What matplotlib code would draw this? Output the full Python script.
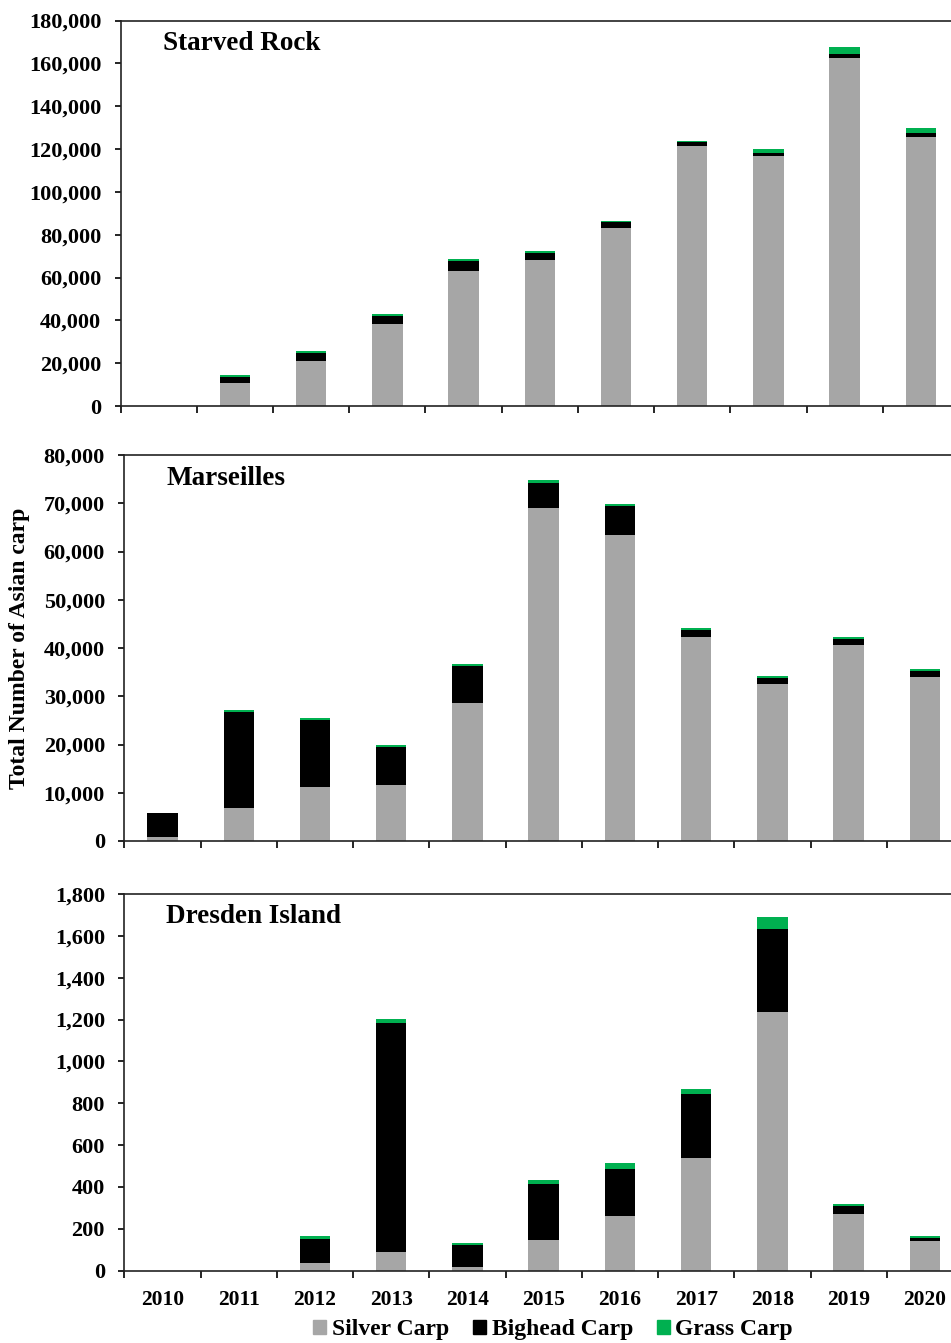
import matplotlib.pyplot as plt
import numpy as np
from matplotlib.ticker import FuncFormatter
from matplotlib.patches import Patch

plt.rcParams['font.family'] = ['Liberation Serif', 'DejaVu Serif']
plt.rcParams['font.weight'] = 'bold'

years = ['2010', '2011', '2012', '2013', '2014', '2015', '2016', '2017', '2018', '2019', '2020']

# Starved Rock
sr_silver = [0, 10600, 20800, 38200, 63000, 68400, 83300, 121400, 116600, 162600, 125500]
sr_bighead = [0, 2900, 3900, 3700, 4500, 3000, 2400, 1700, 1600, 1700, 2200]
sr_grass = [0, 800, 900, 900, 1000, 900, 900, 800, 1700, 3100, 2000]

# Marseilles
ma_silver = [900, 6800, 11100, 11700, 28600, 69100, 63500, 42300, 32500, 40600, 33900]
ma_bighead = [4800, 20000, 14000, 7700, 7700, 5200, 5900, 1400, 1300, 1300, 1300]
ma_grass = [60, 400, 400, 500, 400, 500, 400, 400, 400, 400, 400]

# Dresden Island
di_silver = [0, 0, 35, 91, 19, 148, 261, 540, 1236, 271, 140]
di_bighead = [0, 0, 118, 1094, 104, 268, 227, 304, 397, 38, 16]
di_grass = [0, 0, 11, 18, 8, 16, 25, 24, 58, 10, 8]

panels = [
    ('Starved Rock', sr_silver, sr_bighead, sr_grass, 180000, 20000, [120.6 / 951, 1 - 406 / 1343, 838.4 / 951, 385.5 / 1343]),
    ('Marseilles', ma_silver, ma_bighead, ma_grass, 80000, 10000, [124.4 / 951, 1 - 841 / 1343, 838.6 / 951, 386 / 1343]),
    ('Dresden Island', di_silver, di_bighead, di_grass, 1800, 200, [124.4 / 951, 1 - 1270.7 / 1343, 838.6 / 951, 376.7 / 1343]),
]

c_silver = '#A6A6A6'
c_bighead = '#000000'
c_grass = '#00B050'

fig = plt.figure(figsize=(9.51, 13.43), dpi=100)
x = np.arange(len(years))
axes = []
for name, s, b, g, ymax, step, rect in panels:
    ax = fig.add_axes(rect)
    s = np.array(s)
    b = np.array(b)
    g = np.array(g)
    ax.bar(x, s, width=0.4, color=c_silver, edgecolor='none')
    ax.bar(x, b, width=0.4, bottom=s, color=c_bighead, edgecolor='none')
    ax.bar(x, g, width=0.4, bottom=s + b, color=c_grass, edgecolor='none')
    ax.set_xlim(-0.5, len(years) - 0.5)
    ax.set_ylim(0, ymax)
    ax.set_yticks(np.arange(0, ymax + 1, step))
    ax.yaxis.set_major_formatter(FuncFormatter(lambda v, p: '{:,.0f}'.format(v)))
    ax.set_xticks(np.arange(-0.5, len(years), 1.0))
    ax.set_xticklabels([])
    ax.set_xticks(x, minor=True)
    ax.tick_params(axis='x', which='minor', length=0, pad=14, labelsize=15.5)
    ax.tick_params(axis='x', which='major', direction='out', length=5, width=1.2)
    ax.tick_params(axis='y', direction='out', length=4, width=1.2, labelsize=16, pad=10)
    for sp in ax.spines.values():
        sp.set_linewidth(1.2)
        sp.set_color('#222222')
    ax.spines['right'].set_visible(False)
    ax.text(0.05, 0.94, name, transform=ax.transAxes, fontsize=19.5, fontweight='bold',
            va='center', ha='left')
    axes.append(ax)

axes[2].set_xticklabels(years, minor=True)
for lab in axes[2].get_xticklabels(minor=True):
    lab.set_fontweight('bold')

fig.text(0.021, 1 - 648 / 1343, 'Total Number of Asian carp', rotation=90,
         fontsize=17, fontweight='bold', ha='center', va='center')

handles = [Patch(color=c_silver, label='Silver Carp'),
           Patch(color=c_bighead, label='Bighead Carp'),
           Patch(color=c_grass, label='Grass Carp')]
fig.legend(handles=handles, loc='center', bbox_to_anchor=(553 / 951, 1 - 1330 / 1343), ncol=3,
           frameon=False, fontsize=17, handlelength=0.55, handleheight=0.55,
           handletextpad=0.25, columnspacing=1.0, borderpad=0)

fig.savefig('out.png', dpi=100)
